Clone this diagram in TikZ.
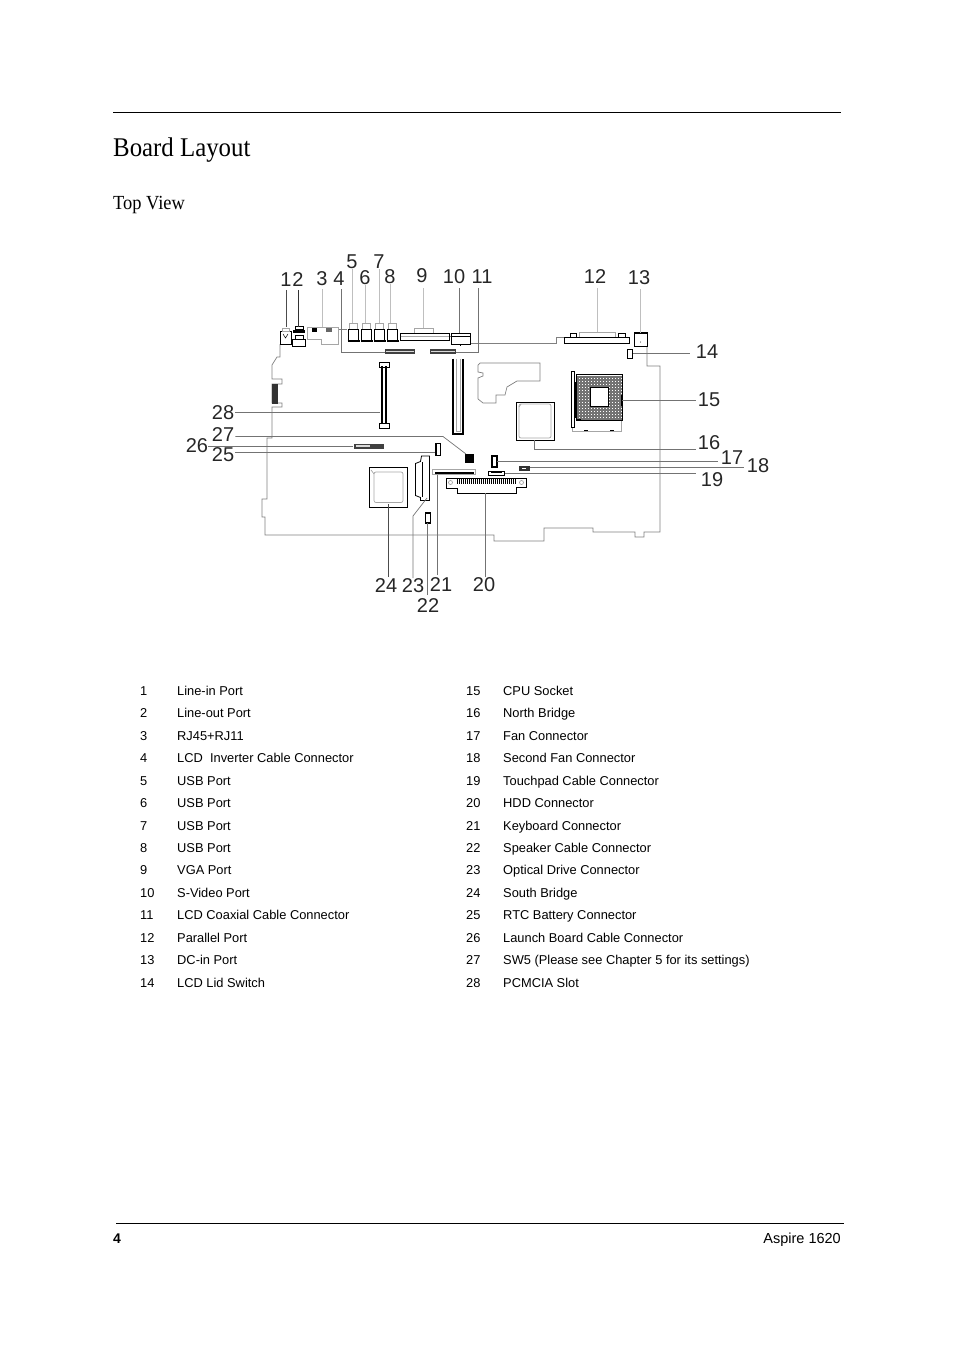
\documentclass[tikz,border=0pt]{standalone}
\usepackage{fontspec}
\setmainfont{Liberation Sans}
\newfontfamily\headfont[FakeStretch=0.92]{Liberation Serif}
\usepackage{tikz}
\usetikzlibrary{positioning}

\tikzset{
  callout/.style={font=\fontsize{20}{20}\selectfont,inner sep=0pt,text=black!85},
  leader/.style={draw=black!55,line width=0.7pt},
  leadlight/.style={draw=black!25,line width=0.7pt},
  outline/.style={draw=black!50,line width=0.7pt},
  part/.style={draw=black,line width=0.8pt},
  faint/.style={draw=black!35,line width=0.7pt},
  tabtext/.style={font=\fontsize{12.85}{13}\selectfont,anchor=base west,inner sep=0pt},
}

\begin{document}
\begin{tikzpicture}[x=1pt,y=-1pt]
  \useasboundingbox (0,0) rectangle (954,1351);

  % page furniture
  \draw[line width=0.8pt] (113,112) -- (841,112);
  \node[anchor=base west,inner sep=0pt,font=\headfont\fontsize{27}{27}\selectfont] (title) at (113,157) {Board Layout};
  \node[anchor=base west,inner sep=0pt,font=\headfont\fontsize{20}{20}\selectfont] (subtitle) at (113,210) {Top View};
  \draw[line width=0.8pt] (116,1223) -- (844,1223);
  \node[anchor=base west,inner sep=0pt,font=\bfseries\fontsize{14}{14}\selectfont] (pageno) at (113,1243) {4};
  \node[anchor=base east,inner sep=0pt,font=\fontsize{14.5}{14}\selectfont] (product) at (841,1243) {Aspire 1620};

  % board edge
  \draw[outline] (280,344) -- (280,357) -- (277,357) -- (272,365) -- (272,379) -- (282,379) -- (282,384) -- (272,384)
    -- (272,403) -- (282,403) -- (282,407) -- (272,407) -- (272,438) -- (267,438) -- (267,499) -- (262,499) -- (262,517)
    -- (265,517) -- (265,535) -- (494,535) -- (494,541) -- (544,541) -- (544,528) -- (593,528) -- (593,532) -- (635,532)
    -- (635,537) -- (644,537) -- (644,532) -- (660,532) -- (660,366) -- (647,366) -- (647,347);
  \draw[outline] (470,343.5) -- (556,343.5) -- (556,337.5) -- (564,337.5);
  \draw[outline] (338,329.5) -- (347,329.5);
  \draw[outline] (449,336) -- (451,336);
  % cut out in the board
  \draw[outline] (480,363) -- (478,365) -- (478,372) -- (483,373) -- (483,376) -- (478,378) -- (478,399) -- (483,403)
    -- (496,403) -- (496,395) -- (505,395) -- (507,387) -- (517,381) -- (540,381) -- (540,363) -- cycle;

  % audio ports
  \draw[part] (280,331) rectangle (291,344);
  \draw[part,line width=0.5pt] (283,334) -- (285.5,338) -- (288,334);
  \draw[faint] (282.5,328) rectangle (289,331);
  \draw[part] (292.5,339) rectangle (305.5,346.5);
  \draw[part,line width=2.5pt] (293,331.5) -- (305,331.5);
  \draw[part] (295,326) rectangle (303,329.5);
  \draw[part] (295,335) rectangle (303,339);

  % RJ45
  \draw[faint] (307,327.5) -- (338,327.5) -- (338,344.5) -- (321,344.5) -- (321,339.5) -- (307,339.5) -- cycle;
  \fill (312,327.5) rectangle (316.5,331.5);
  \fill[black!60] (326,327.5) rectangle (331.5,331.5);

  % USB ports
  \foreach \px in {347.5,360.5,373.5,386.5}{
    \draw[faint] (\px+2,323.5) rectangle (\px+9.5,329.5);
    \draw[part,line width=0.6pt] (\px+0.5,329.5) rectangle (\px+11,341);
    \draw[part,line width=2pt] (\px,340.5) -- (\px+12,340.5);
  }

  % VGA
  \draw[faint] (414.5,328) rectangle (433.5,333.5);
  \draw[part] (400,333.5) rectangle (449,340.5);
  \draw[faint] (400.5,336) -- (448.5,336);
  % S-Video
  \draw[part] (451.5,333.5) rectangle (470,344);
  \draw[part] (451.5,336.5) -- (470,336.5);
  \draw[part,line width=0.5pt] (460,344) -- (460,345.5);

  % LCD connectors
  \foreach \qx/\qw in {385/30,430/26}{
    \fill[black!75] (\qx,348.5) rectangle (\qx+\qw,354);
    \fill[black!15] (\qx+1,350.5) rectangle (\qx+\qw-1,352);
  }

  % parallel port
  \draw[faint] (579.5,332) rectangle (615,337.5);
  \draw[part,line width=0.6pt] (570,333.5) rectangle (576.5,337.5);
  \draw[part,line width=0.6pt] (618.5,333.5) rectangle (625,337.5);
  \draw[part] (564.5,337.5) rectangle (629.5,343.5);

  % DC-in
  \draw[part] (634,333) rectangle (647.5,346.5);
  \draw[part,line width=1.5pt] (634,333) -- (647.5,333);
  \fill (640.5,342) circle (0.5);
  % small connectors
  \foreach \cx/\cy/\cw/\ch in {627.5/349.5/5/9,436/443.5/4.5/12,492/456/5/11,425.5/513/5/10}{
    \draw[part,line width=1.5pt] (\cx,\cy) rectangle (\cx+\cw,\cy+\ch);
  }
  \fill[black!80] (518.5,466) rectangle (530,470.5);
  \fill[white] (521.5,467.5) rectangle (526,469);
  \draw[part,line width=0.6pt] (488.5,471) rectangle (504.5,475);
  \fill[black] (491,471) rectangle (502,472.5);
  \fill[black!75] (353.5,443.5) rectangle (383.5,449);
  \fill[black!15] (356,444.5) rectangle (370,446.5);
  \fill[black!80] (271.5,383.5) rectangle (277.5,403.5);
  \fill[black] (465,453.5) rectangle (473.5,462.5);

  % PCMCIA slots
  \draw[part,line width=0.6pt] (379.5,362.5) rectangle (389,367.5);
  \draw[part,line width=2pt] (381.5,366) -- (381.5,424);
  \draw[part,line width=2pt] (386,366) -- (386,424);
  \draw[part,line width=0.6pt] (379.5,423) rectangle (389,428.5);
  \draw[part,line width=1.5pt] (453,358.5) -- (453,434) -- (463,434) -- (463,358.5);
  \draw[faint] (456,358.5) -- (456,431) -- (460,431) -- (460,358.5);

  % CPU socket
  \draw[faint] (572.5,420.5) -- (572.5,431) -- (621.5,431) -- (621.5,420.5);
  \fill (584,429.5) rectangle (588,431);
  \fill (610,429.5) rectangle (614,431);
  \begin{scope}
    \clip (577,376) rectangle (622,420);
    \foreach \gx in {577,578.5,...,622}{
      \draw[black!55,line width=0.5pt] (\gx,376) -- (\gx,420);
    }
    \foreach \gy in {376,377.5,...,420}{
      \draw[black!55,line width=0.5pt] (577,\gy) -- (622,\gy);
    }
  \end{scope}
  \draw[part] (576,374.5) rectangle (622.5,420.5);
  \draw[part,fill=white] (590,387) rectangle (608.5,406.5);
  \draw[part,fill=white] (571.5,371) rectangle (574.5,427.5);
  \draw[part,line width=1.5pt] (575.5,382) -- (575.5,418);
  \draw[part,fill=white,line width=0.6pt] (621.5,395) rectangle (622.5,405);
  \fill (575.5,418.5) rectangle (581,420.5);

  % bridges
  \draw[part] (516.5,402) rectangle (554.5,440.5);
  \draw[faint,rounded corners=2pt] (519,404) rectangle (551,438);
  \draw[faint] (519,407) -- (521,404);
  \draw[part] (369.5,467.5) rectangle (407.5,507.5);
  \draw[faint,rounded corners=2pt] (374,472) rectangle (403,502.5);
  \draw[faint] (371,470) -- (374,474);

  % optical drive connector
  \draw[part] (421.5,456) -- (429.5,456) -- (429.5,500.5) -- (420.5,500.5) -- (420.5,497.5) -- (415.5,495.5) -- (415.5,463.5) -- (420.5,461.5) -- cycle;
  \draw[part] (422.5,462) -- (422.5,497);

  % keyboard connector
  \draw[faint] (432.5,469.5) rectangle (475.5,474.5);
  \draw[part,line width=2pt] (435,473) -- (474,473);

  % HDD connector
  \draw[part] (446.5,478.5) -- (526.5,478.5) -- (526.5,487.5) -- (516,487.5) -- (516,493.5) -- (457.5,493.5) -- (457.5,488.5) -- (446.5,488.5) -- cycle;
  \foreach \tx in {457,459,...,515}{
    \draw[black,line width=1pt] (\tx,478.5) -- (\tx,483.5);
  }
  \draw[faint] (450.5,482.5) circle (2);
  \draw[faint] (521.5,482.5) circle (2);

  % callouts
  \foreach \nm/\ax/\ay in {
      1/286/280,2/298/280,3/322/279,4/339/279,5/352/262,6/365/278,7/379/262,
      8/390/277,9/422/276,10/454/277,11/482/277,12/595/277,13/639/278,14/707/352,
      15/709/400,16/709/443,17/732/458,18/758/466,19/712/480,20/484/585,21/441/585,
      22/428/606,23/413/586,24/386/586,25/223/455,26/197/446,27/223/435,28/223/413}{
    \node[callout] (lab\nm) at (\ax,\ay) {\nm};
  }

  % end points of the leader lines
  \coordinate (end1) at (286,327);
  \coordinate (end2) at (298,327);
  \coordinate (end3) at (322,327);
  \coordinate (end4) at (385,352);
  \coordinate (end5) at (352,323);
  \coordinate (end6) at (365,323);
  \coordinate (end7) at (378,323);
  \coordinate (end8) at (390,323);
  \coordinate (end9) at (423,328);
  \coordinate (end10) at (459,333);
  \coordinate (end11) at (456,352);
  \coordinate (end12) at (597,332);
  \coordinate (end13) at (640,333);
  \coordinate (end14) at (633,353);
  \coordinate (end15) at (622,400.5);
  \coordinate (end16) at (534,440);
  \coordinate (end17) at (497,461);
  \coordinate (end18) at (530,467);
  \coordinate (end19) at (505,473);
  \coordinate (end20) at (485.5,493);
  \coordinate (end21) at (437,475);
  \coordinate (end22) at (427.5,523);
  \coordinate (end23) at (427,498);
  \coordinate (end24) at (388,504);
  \coordinate (end25) at (435,452);
  \coordinate (end26) at (353,446.5);
  \coordinate (end27) at (466,454);
  \coordinate (end28) at (380,412.5);

  \draw[black!70,line width=0.6pt] (lab1) ++(0,10) -- (end1);
  \draw[black!80,line width=0.6pt] (lab2) ++(0,10) -- (end2);
  \draw[leadlight] (lab3) ++(0,10) -- (end3);
  \draw[leader] (lab4) ++(2.5,10) |- (end4);
  \foreach \nm in {5,6,7,8}{
    \draw[leadlight] (lab\nm.south) -- (lab\nm.south |- end\nm);
  }
  \draw[leadlight] (lab9) ++(1,12) -- (end9);
  \draw[leader] (lab10) ++(5,11) -- (end10);
  \draw[leader] (lab11) ++(-4,11) |- (end11);
  \draw[leadlight] (lab12) ++(2,11) -- (end12);
  \draw[leadlight] (lab13) ++(1,11) -- (end13);
  \draw[leader] (lab14.west) ++(-6,1) -- (end14);
  \draw[leader] (lab15.west) ++(-2,0.5) -- (end15);
  \draw[leader] (end16) |- ([shift={(-2,6)}]lab16.west);
  \draw[leader] (lab17.west) ++(-3,3) -- (end17);
  \draw[leader] (lab18.west) ++(-3,1) -- (end18);
  \draw[leader] (lab19.west) ++(-5,-7) -- (end19);
  \draw[leader] (lab20) ++(1.5,-8) -- (end20);
  \draw[leader] (lab21) ++(-4,-10) -- (end21);
  \draw[leader] (lab22) ++(-0.5,-11) -- (end22);
  \draw[leader] (lab23) ++(0,-8) -- (413,516) -- (end23);
  \draw[black!70,line width=0.6pt] (lab24) ++(2,-9) -- (end24);
  \draw[leader] (lab25.east) ++(1,-3) -- (end25);
  \draw[leader] (lab26.east) ++(0,0.5) -- (end26);
  \draw[leader] (lab27.east) ++(1,1.5) -- (443,436.5) -- (end27);
  \draw[leader] (lab28.east) ++(1,-0.5) -- (end28);

  % tables
  \foreach \rn/\ry/\ltxt/\rm/\rtxt in {
      1/695/Line-in Port/15/CPU Socket,
      2/717.5/Line-out Port/16/North Bridge,
      3/740/RJ45+RJ11/17/Fan Connector,
      4/762.5/LCD\ \ Inverter Cable Connector/18/Second Fan Connector,
      5/785/USB Port/19/Touchpad Cable Connector,
      6/807.5/USB Port/20/HDD Connector,
      7/830/USB Port/21/Keyboard Connector,
      8/852/USB Port/22/Speaker Cable Connector,
      9/874.5/VGA Port/23/Optical Drive Connector,
      10/897/S-Video Port/24/South Bridge,
      11/919.5/LCD Coaxial Cable Connector/25/RTC Battery Connector,
      12/942/Parallel Port/26/Launch Board Cable Connector,
      13/964.5/DC-in Port/27/SW5 (Please see Chapter 5 for its settings),
      14/987/LCD Lid Switch/28/PCMCIA Slot}{
    \node[tabtext] (num\rn) at (140,\ry) {\rn};
    \node[tabtext] (txt\rn) at (177,\ry) {\ltxt};
    \node[tabtext] (num\rm) at (466,\ry) {\rm};
    \node[tabtext] (txt\rm) at (503,\ry) {\rtxt};
  }
\end{tikzpicture}
\end{document}
